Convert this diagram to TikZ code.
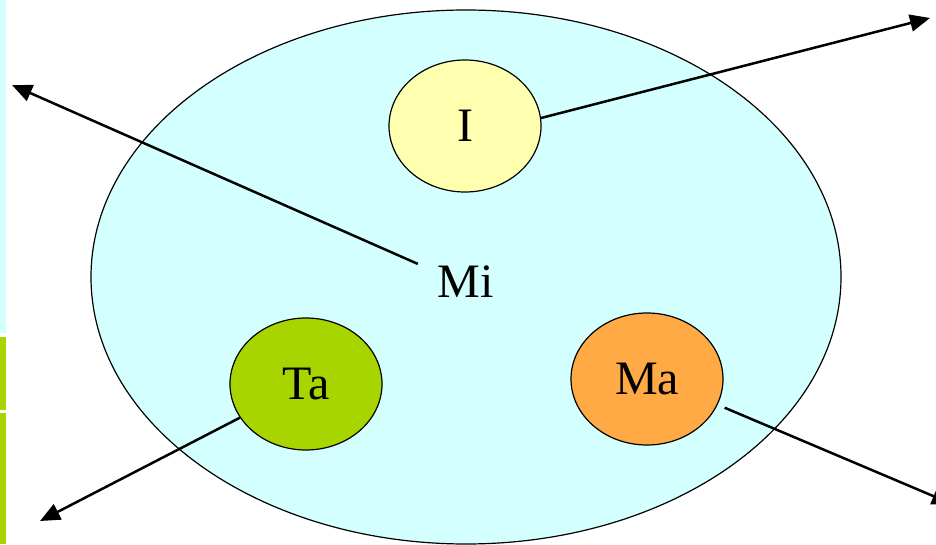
\documentclass[tikz,border=0pt]{standalone}
\usepackage{fontspec}
\setmainfont{Liberation Serif}
\usetikzlibrary{arrows.meta, shapes.geometric, positioning}
\definecolor{micyan}{HTML}{D4FFFF}
\definecolor{iyellow}{HTML}{FFFFB0}
\definecolor{tagreen}{HTML}{A8D400}
\definecolor{maorange}{HTML}{FFAA44}

\begin{document}
\begin{tikzpicture}[x=1pt, y=1pt,
        blob/.style={ellipse, draw=black, line width=1.2pt, inner sep=0pt,
            minimum width=152pt, minimum height=132pt},
        lbl/.style={font=\fontsize{48}{52}\selectfont},
        outarrow/.style={-{Triangle[length=20pt,width=17pt]}, line width=2.5pt}]
        \useasboundingbox (0,0) rectangle (936,544);
        \clip (0,0) rectangle (936,544);

        % strips on the left edge
        \fill[micyan] (0,211) rectangle (6,544);
        \fill[tagreen] (0,134) rectangle (6,207);
        \fill[tagreen] (0,0) rectangle (6,131);

        % the large oval with the three smaller ones
        \node[ellipse, draw=black, line width=1.2pt, fill=micyan,
            minimum width=750pt, minimum height=534pt] (nMiOval) at (466,267) {};
        \node[blob, fill=iyellow, lbl] (nI) at (465,418) {I};
        \node[blob, fill=tagreen, lbl] (nTa) at (306,160) {Ta};
        \node[blob, fill=maorange, lbl] (nMa) at (647,165) {Ma};
        \node[lbl, inner sep=4pt] (nMi) at (466,262) {Mi};

        % free ends of the arrows
        \coordinate (miTail) at ([xshift=-16pt, yshift=-2pt]nMi.north west);
        \coordinate (miEnd) at (12,459);
        \coordinate (iEnd) at (930,526);
        \coordinate (taEnd) at (40,23);
        \coordinate (maEnd) at (952,40);

        % arrows
        \draw[outarrow] (miTail) -- (miEnd);
        \draw[outarrow] (nI.6) -- (iEnd);
        \draw[outarrow] (nTa.207) -- (taEnd);
        \draw[outarrow] ([xshift=7pt, yshift=-3pt]nMa.-20) -- (maEnd);
\end{tikzpicture}
\end{document}
